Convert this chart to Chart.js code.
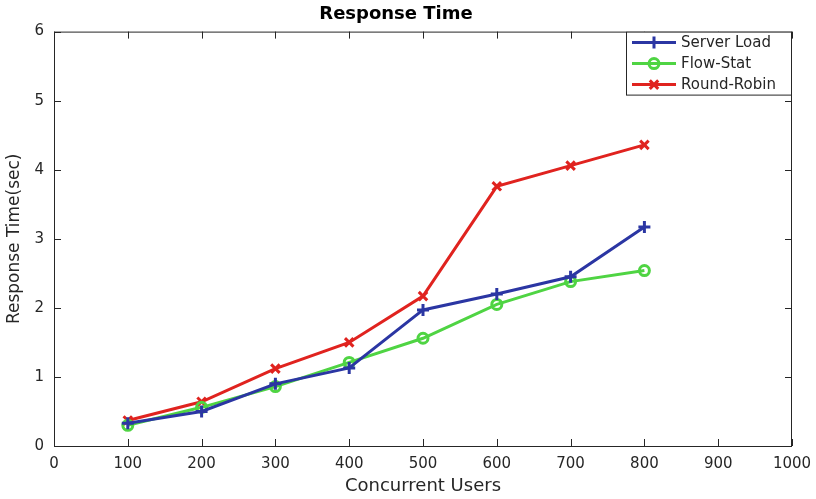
<!DOCTYPE html>
<html>
<head>
<meta charset="utf-8">
<script src="https://cdn.jsdelivr.net/npm/chart.js@4/dist/chart.umd.min.js"></script>
<style>
  html, body { margin: 0; padding: 0; background: #fff; }
  #wrap { width: 816px; height: 499px; }
</style>
</head>
<body>
<div id="wrap"><canvas id="chart" width="816" height="499"></canvas></div>
<script>
const users = [100, 200, 300, 400, 500, 600, 700, 800];
const serverLoad = [0.33, 0.5, 0.9, 1.13, 1.97, 2.2, 2.45, 3.17];
const flowStat = [0.3, 0.56, 0.86, 1.21, 1.56, 2.05, 2.38, 2.54];
const roundRobin = [0.37, 0.64, 1.12, 1.5, 2.17, 3.76, 4.06, 4.36];
const seriesNames = ['Server Load', 'Flow-Stat', 'Round-Robin'];
const xTicks = [0, 100, 200, 300, 400, 500, 600, 700, 800, 900, 1000];
const yTicks = [0, 1, 2, 3, 4, 5, 6];

const FONT = "'DejaVu Sans', Arial, sans-serif";
const INK = '#262626';

const toPoints = vals => users.map((u, i) => ({ x: u, y: vals[i] }));

// matlab style box with ticks pointing inward on all four sides
const boxTicks = {
  id: 'boxTicks',
  afterDraw(chart) {
    const { ctx, chartArea: a, scales } = chart;
    ctx.save();
    ctx.strokeStyle = INK;
    ctx.lineWidth = 1;
    ctx.strokeRect(a.left + 0.5, a.top + 0.5, a.right - a.left - 1, a.bottom - a.top);
    const len = 7;
    ctx.beginPath();
    xTicks.forEach(v => {
      const px = Math.round(scales.x.getPixelForValue(v)) + 0.5;
      ctx.moveTo(px, a.bottom); ctx.lineTo(px, a.bottom - len);
      ctx.moveTo(px, a.top); ctx.lineTo(px, a.top + len);
    });
    yTicks.forEach(v => {
      const py = Math.round(scales.y.getPixelForValue(v)) + 0.5;
      ctx.moveTo(a.left, py); ctx.lineTo(a.left + len, py);
      ctx.moveTo(a.right, py); ctx.lineTo(a.right - len, py);
    });
    ctx.stroke();
    ctx.restore();
  }
};

// legend drawn inside the plot, top right corner
const innerLegend = {
  id: 'innerLegend',
  afterDraw(chart) {
    const { ctx, chartArea: a } = chart;
    const w = 165, h = 63;
    const x0 = a.right - w - 1, y0 = a.top;
    ctx.save();
    ctx.fillStyle = '#fff';
    ctx.fillRect(x0, y0, w, h);
    ctx.strokeStyle = INK;
    ctx.lineWidth = 1;
    ctx.strokeRect(x0 + 0.5, y0 + 0.5, w, h);
    ctx.font = '15px ' + FONT;
    ctx.textBaseline = 'middle';
    chart.data.datasets.forEach((ds, i) => {
      const cy = y0 + 11 + i * 21;
      ctx.strokeStyle = ds.borderColor;
      ctx.lineWidth = 3;
      ctx.beginPath();
      ctx.moveTo(x0 + 6, cy); ctx.lineTo(x0 + 50, cy);
      ctx.stroke();
      ctx.fillStyle = 'rgba(0,0,0,0)';
      Chart.helpers.drawPoint(ctx, {
        pointStyle: ds.pointStyle, radius: ds.pointRadius, borderWidth: ds.pointBorderWidth
      }, x0 + 28, cy);
      ctx.fillStyle = INK;
      ctx.fillText(ds.label, x0 + 55, cy + 1);
    });
    ctx.restore();
  }
};

const mk = (label, vals, color, style) => ({
  label: label,
  data: toPoints(vals),
  borderColor: color,
  backgroundColor: 'rgba(0,0,0,0)',
  borderWidth: 3,
  pointStyle: style,
  pointRadius: style === 'circle' ? 5 : 6,
  pointBorderWidth: 3,
  pointBorderColor: color,
  pointBackgroundColor: 'rgba(0,0,0,0)',
  tension: 0
});

new Chart(document.getElementById('chart'), {
  type: 'line',
  data: {
    datasets: [
      mk(seriesNames[0], serverLoad, '#2b36a3', 'cross'),
      mk(seriesNames[1], flowStat, '#4fd443', 'circle'),
      mk(seriesNames[2], roundRobin, '#e0231f', 'crossRot')
    ]
  },
  options: {
    responsive: false,
    animation: false,
    layout: { padding: { right: 24 } },
    plugins: {
      legend: { display: false },
      tooltip: { enabled: false },
      title: {
        display: true,
        text: 'Response Time',
        color: '#000',
        font: { family: FONT, size: 18, weight: 'bold' },
        padding: { top: 4, bottom: 6 }
      }
    },
    scales: {
      x: {
        type: 'linear',
        min: 0, max: 1000,
        afterFit: s => { s.height = 53; s.paddingLeft = 0; s.paddingRight = 0; },
        afterBuildTicks: s => { s.ticks = xTicks.map(v => ({ value: v })); },
        grid: { display: false, drawTicks: false },
        border: { display: false },
        ticks: { color: INK, padding: 9, maxRotation: 0, font: { family: FONT, size: 15 },
                 callback: v => String(v) },
        title: {
          display: true, text: 'Concurrent Users', color: INK,
          font: { family: FONT, size: 18 }, padding: { top: 0, bottom: 2 }
        }
      },
      y: {
        min: 0, max: 6,
        afterFit: s => { s.width = 54; s.paddingTop = 0; s.paddingBottom = 0; },
        afterBuildTicks: s => { s.ticks = yTicks.map(v => ({ value: v })); },
        grid: { display: false, drawTicks: false },
        border: { display: false },
        ticks: { color: INK, padding: 10, font: { family: FONT, size: 15 } },
        title: {
          display: true, text: 'Response Time(sec)', color: INK,
          font: { family: FONT, size: 17 }, padding: { top: 4, bottom: 0 }
        }
      }
    }
  },
  plugins: [boxTicks, innerLegend]
});
</script>
</body>
</html>
